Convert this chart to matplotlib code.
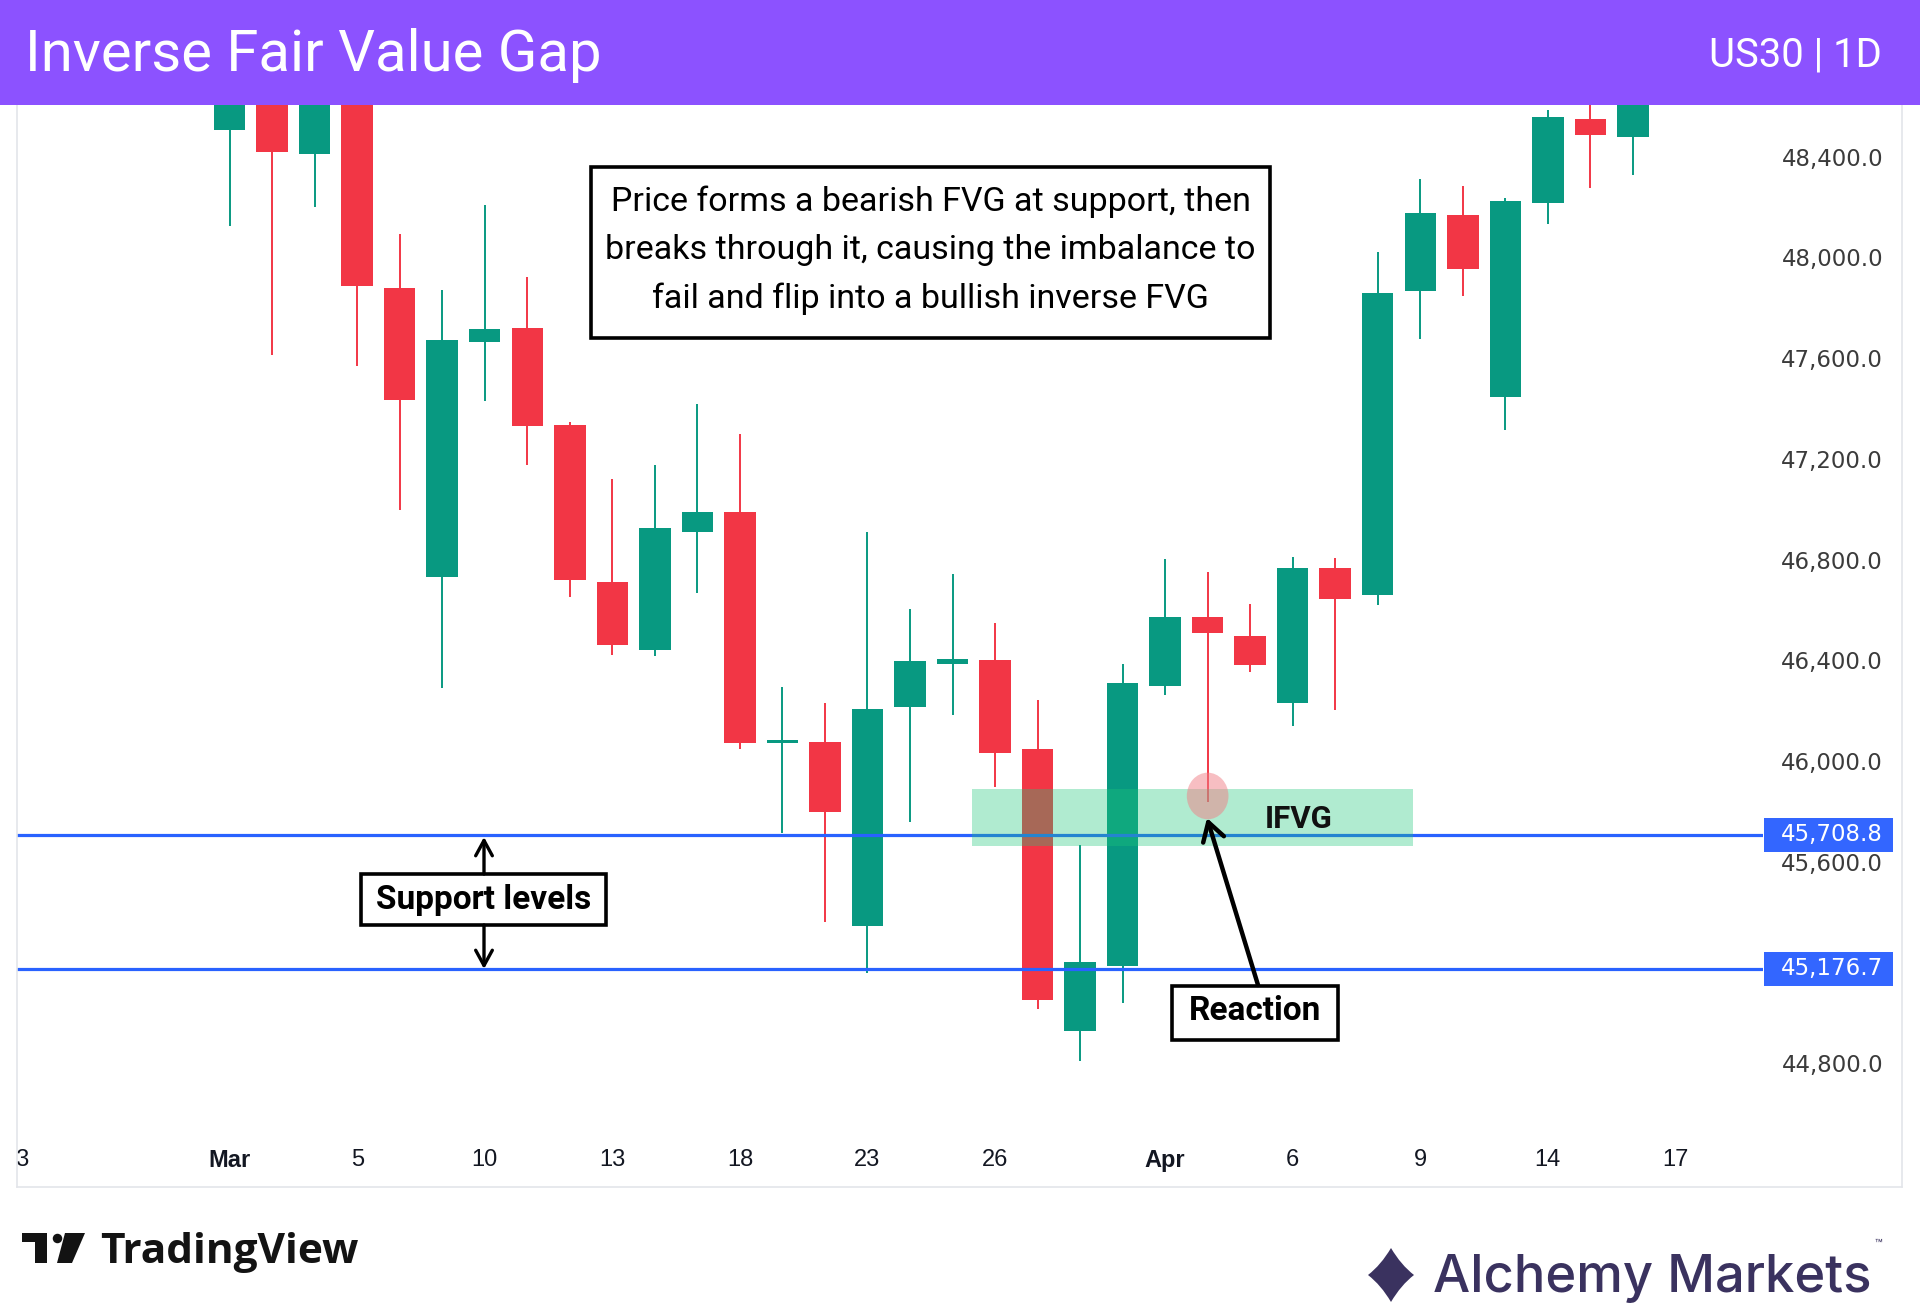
import matplotlib
matplotlib.use('Agg')
import matplotlib.pyplot as plt
import numpy as np
from matplotlib.patches import Rectangle, Ellipse, Polygon, PathPatch, FancyArrowPatch
from matplotlib.path import Path
from matplotlib.lines import Line2D
from matplotlib.transforms import Bbox, TransformedBbox, blended_transform_factory

plt.rcParams['font.family'] = ['Roboto', 'DejaVu Sans']

W, H, DPI = 1920, 1314, 100

# ---------------- data ----------------
candle_index = list(range(34))
opens  = [48507, 48760, 48410, 48700, 47880, 46733, 47666, 47719, 47335, 46713,
          46441, 46908, 46990, 46072, 46076, 45347, 46217, 46387, 46402, 46047,
          44929, 45187, 46300, 46572, 46499, 46232, 46767, 46660, 47865, 48167,
          47447, 48215, 48551, 48478]
highs  = [48780, 48820, 48800, 48740, 48094, 47870, 48210, 47924, 47345, 47122,
          47175, 47418, 47297, 46295, 46232, 46908, 46606, 46742, 46548, 46242,
          45668, 46387, 46801, 46752, 46626, 46810, 46806, 48021, 48312, 48283,
          48235, 48585, 48650, 48660]
lows   = [48123, 47612, 48201, 47569, 46999, 46290, 47428, 47175, 46650, 46421,
          46417, 46669, 46047, 45717, 45362, 45158, 45760, 46183, 45897, 45017,
          44808, 45041, 46261, 45838, 46353, 46139, 46203, 46621, 47676, 47846,
          47316, 48133, 48274, 48327]
closes = [48700, 48419, 48760, 47885, 47433, 47671, 47715, 47331, 46718, 46460,
          46927, 46990, 46072, 46086, 45799, 46208, 46397, 46407, 46033, 45051,
          45201, 46310, 46572, 46509, 46383, 46767, 46645, 47860, 48176, 47953,
          48225, 48556, 48487, 48640]

support_levels = [45708.8, 45176.7]
support_labels = ['45,708.8', '45,176.7']

ifvg_x0, ifvg_x1 = 17.47, 27.82
ifvg_low, ifvg_high = 45665, 45890
reaction_candle, reaction_price = 23, 45862

price_ticks = [44800, 45200, 45600, 46000, 46400, 46800, 47200, 47600, 48000, 48400]
time_tick_pos = [-5, 0, 3, 6, 9, 12, 15, 18, 22, 25, 28, 31, 34]
time_tick_labels = ['23', 'Mar', '5', '10', '13', '18', '23', '26', 'Apr', '6', '9', '14', '17']
bold_time_labels = ['Mar', 'Apr']

note_lines = ['Price forms a bearish FVG at support, then',
              'breaks through it, causing the imbalance to',
              'fail and flip into a bullish inverse FVG']

GREEN, RED, BLUE = '#089981', '#f23645', '#2962ff'
PURPLE, NAVY = '#8c52ff', '#3a325f'

# ---------------- figure ----------------
fig = plt.figure(figsize=(W / DPI, H / DPI), dpi=DPI)
fig.patch.set_facecolor('white')

def fx(px):
    return px / W

def fy(py):
    return 1 - py / H

ax_l, ax_r, ax_t, ax_b = 17, 1763, 105, 1130
ax = fig.add_axes([fx(ax_l), fy(ax_b), (ax_r - ax_l) / W, (ax_b - ax_t) / H])
ax.set_xlim(-4.917, 36.06)
ax.set_ylim(44536, 48605)
for s in ax.spines.values():
    s.set_visible(False)
ax.set_facecolor('white')

x = np.array(candle_index, dtype=float)
o = np.array(opens, float); c = np.array(closes, float)
hi = np.array(highs, float); lo = np.array(lows, float)
cols = [GREEN if cc >= oo else RED for oo, cc in zip(o, c)]
ax.vlines(x, lo, hi, colors=cols, linewidth=1.4, zorder=2)
ax.bar(x, np.maximum(np.abs(c - o), 8), bottom=np.minimum(o, c), width=0.74,
       color=cols, linewidth=0, zorder=3)

# support lines
for lvl in support_levels:
    ax.axhline(lvl, color=BLUE, linewidth=2.3, zorder=4)

# IFVG zone
ax.add_patch(Rectangle((ifvg_x0, ifvg_low), ifvg_x1 - ifvg_x0, ifvg_high - ifvg_low,
                       facecolor='#1dc679', alpha=0.35, linewidth=0, zorder=5))
# reaction circle
ax.add_patch(Ellipse((reaction_candle, reaction_price), 0.98, 185,
                     facecolor='#f07f86', alpha=0.5, linewidth=0, zorder=6))

# y ticks (price scale)
ax.yaxis.tick_right()
ax.set_yticks(price_ticks)
ax.set_yticklabels([f'{v:,.1f}' for v in price_ticks])
ax.tick_params(axis='y', length=0, pad=86.4, labelsize=16.5, labelcolor='#3b3b3b')
for t in ax.get_yticklabels():
    t.set_horizontalalignment('right')
    t.set_fontfamily('DejaVu Sans')

# x ticks (time scale)
ax.set_xticks(time_tick_pos)
ax.set_xticklabels(time_tick_labels)
ax.tick_params(axis='x', length=0, pad=13.5, labelsize=17, labelcolor='#131722')
for t in ax.get_xticklabels():
    t.set_fontfamily(['Liberation Sans', 'DejaVu Sans'])
    if t.get_text() in bold_time_labels:
        t.set_fontweight('bold')
clipbb = TransformedBbox(Bbox([[fx(ax_l), 0], [1, 1]]), fig.transFigure)
first = ax.xaxis.get_major_ticks()[0].label1
first.set_clip_box(clipbb)
first.set_clip_on(True)

# price labels for support lines
blend = blended_transform_factory(fig.transFigure, ax.transData)
half = 17 / 0.2519
for lvl, lab in zip(support_levels, support_labels):
    ax.add_patch(Rectangle((fx(1764), lvl - half), (1893 - 1764) / W, 2 * half,
                           transform=blend, facecolor='#3366ff', linewidth=0,
                           clip_on=False, zorder=10))
    ax.text(fx(1883), lvl, lab, transform=blend, ha='right', va='center',
            color='white', fontsize=16.5, family='DejaVu Sans', zorder=11, clip_on=False)

# pane border
for (x0, y0, x1, y1) in [(17, 105, 17, 1187), (17, 1187, 1902, 1187), (1902, 105, 1902, 1187)]:
    fig.add_artist(Line2D([fx(x0), fx(x1)], [fy(y0), fy(y1)], color='#e3e5ea',
                          linewidth=1.2, zorder=1))

# header
fig.add_artist(Rectangle((0, fy(105)), 1, 105 / H, transform=fig.transFigure,
                         facecolor=PURPLE, linewidth=0, zorder=20))
fig.text(fx(25), fy(71), 'Inverse Fair Value Gap', color='white', fontsize=41.8,
         ha='left', va='baseline', zorder=21)
fig.text(fx(1882), fy(66), 'US30 | 1D', color='white', fontsize=28.8,
         ha='right', va='baseline', zorder=21)

# annotation box
fig.add_artist(Rectangle((fx(591), fy(338)), (1270 - 591) / W, (338 - 167) / H,
                         transform=fig.transFigure, facecolor='white', edgecolor='black',
                         linewidth=2.6, zorder=12))
for line, base in zip(note_lines, [211, 259.5, 308]):
    fig.text(fx(930.5), fy(base), line, ha='center', va='baseline', fontsize=24.5,
             color='black', zorder=13)

# Support levels box + arrows
fig.add_artist(Rectangle((fx(361), fy(925)), (606 - 361) / W, (925 - 874) / H,
                         transform=fig.transFigure, facecolor='white', edgecolor='black',
                         linewidth=2.6, zorder=12))
fig.text(fx(483.5), fy(909), 'Support levels', ha='center', va='baseline', fontsize=24,
         fontweight='bold', color='black', zorder=13)
for (a, b) in [((484, 874), (484, 837)), ((484, 925), (484, 969))]:
    fig.add_artist(FancyArrowPatch((fx(a[0]), fy(a[1])), (fx(b[0]), fy(b[1])),
                                   transform=fig.transFigure,
                                   arrowstyle='->,head_length=0.55,head_width=0.3',
                                   mutation_scale=20, linewidth=2.4, color='black',
                                   shrinkA=0, shrinkB=0, zorder=13))

# Reaction box + arrow
fig.add_artist(Rectangle((fx(1172), fy(1040)), (1338 - 1172) / W, (1040 - 986) / H,
                         transform=fig.transFigure, facecolor='white', edgecolor='black',
                         linewidth=2.6, zorder=12))
fig.text(fx(1255), fy(1020), 'Reaction', ha='center', va='baseline', fontsize=24,
         fontweight='bold', color='black', zorder=13)
fig.add_artist(FancyArrowPatch((fx(1258), fy(985)), (fx(1207), fy(818)),
                               transform=fig.transFigure,
                               arrowstyle='->,head_length=0.5,head_width=0.3',
                               mutation_scale=26, linewidth=3.2, color='black',
                               shrinkA=0, shrinkB=0, zorder=13))

# IFVG label
fig.text(fx(1299), fy(828), 'IFVG', ha='center', va='baseline', fontsize=22.5,
         fontweight='bold', color='#111111', zorder=13)

# TradingView logo
fig.add_artist(Polygon([(fx(22), fy(1233)), (fx(47), fy(1233)), (fx(47), fy(1263)),
                        (fx(35), fy(1263)), (fx(35), fy(1242)), (fx(22), fy(1242))],
                       closed=True, transform=fig.transFigure, facecolor='#131313',
                       linewidth=0, zorder=5))
fig.add_artist(Ellipse((fx(57.5), fy(1238.5)), 9.5 / W, 9.5 / H, transform=fig.transFigure,
                       facecolor='#131313', linewidth=0, zorder=5))
fig.add_artist(Polygon([(fx(65), fy(1233)), (fx(85), fy(1233)), (fx(72), fy(1263)),
                        (fx(57), fy(1263))], closed=True, transform=fig.transFigure,
                       facecolor='#131313', linewidth=0, zorder=5))
fig.text(fx(100), fy(1263), 'TradingView', ha='left', va='baseline', fontsize=30.5,
         fontweight='bold', family=['Open Sans', 'DejaVu Sans'], color='#131313')

# Alchemy Markets logo
cx, cy = 1391, 1275
k = 10
pts = [(cx, 1248), (cx + k, cy - k), (1414, cy), (cx + k, cy + k), (cx, 1302),
       (cx - k, cy + k), (1368, cy), (cx - k, cy - k), (cx, 1248)]
codes = [Path.MOVETO, Path.CURVE3, Path.CURVE3, Path.CURVE3, Path.CURVE3,
         Path.CURVE3, Path.CURVE3, Path.CURVE3, Path.CURVE3]
star = Path([(fx(px), fy(py)) for px, py in pts], codes)
fig.add_artist(PathPatch(star, transform=fig.transFigure, facecolor=NAVY, linewidth=0))
fig.text(fx(1433), fy(1292), 'Alchemy Markets', ha='left', va='baseline', fontsize=37.8,
         fontweight='medium', family=['Inter', 'DejaVu Sans'], color=NAVY)
fig.text(fx(1878), fy(1248), '™', ha='center', va='baseline', fontsize=9,
         family=['Inter', 'DejaVu Sans'], color=NAVY)

fig.savefig('out.png', dpi=DPI, facecolor='white')
